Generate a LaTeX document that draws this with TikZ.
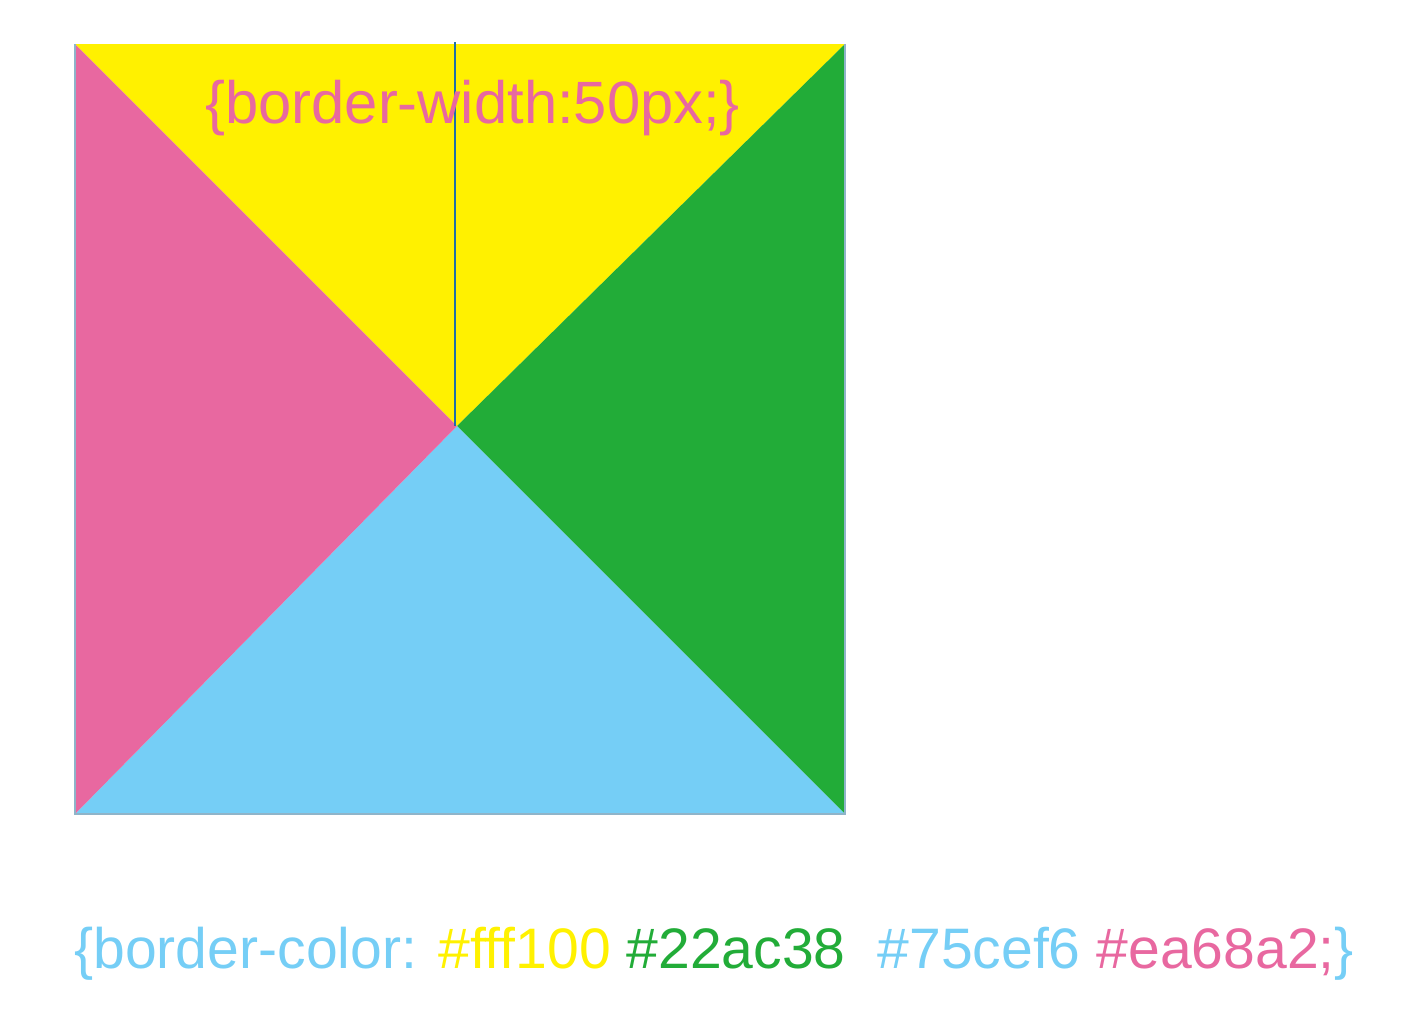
\documentclass[tikz,border=0pt]{standalone}
\usepackage{fontspec}
\setmainfont{Liberation Sans}
\definecolor{cyel}{HTML}{FFF100}
\definecolor{cgrn}{HTML}{22AC38}
\definecolor{cblu}{HTML}{75CEF6}
\definecolor{cpnk}{HTML}{E868A0}
\definecolor{cedge}{HTML}{8FB4C9}
\definecolor{cline}{HTML}{1F6FA8}
\begin{document}
\begin{tikzpicture}[x=0.02cm,y=-0.02cm,
  lbl/.style={inner sep=0pt,anchor=base west}]
\useasboundingbox (0,0) rectangle (1408,1012);
\coordinate (tl) at (75,44);
\coordinate (tr) at (845,44);
\coordinate (br) at (845,814);
\coordinate (bl) at (75,814);
\coordinate (c) at (457,426);
\fill[cyel] (tl) -- (tr) -- (c) -- cycle;
\fill[cgrn] (tr) -- (br) -- (c) -- cycle;
\fill[cblu] (br) -- (bl) -- (c) -- cycle;
\fill[cpnk] (bl) -- (tl) -- (c) -- cycle;
\draw[cedge,line width=1.2pt] (tl) -- (bl) -- (br) -- (tr);
\coordinate (vtop) at (455,42);
\coordinate (vbot) at (455,426);
\draw[cline,line width=0.9pt] (vtop) -- (vbot);
\node[lbl,text=cpnk,font=\fontsize{34}{40}\selectfont] (tw) at (205,123) {\{border-width:50px;\}};
\node[lbl,font=\fontsize{32.5}{38}\selectfont] (tc) at (74,968)
  {\textcolor{cblu}{\{border-color:} \textcolor{cyel}{\#fff100} \textcolor{cgrn}{\#22ac38}\ \ \textcolor{cblu}{\#75cef6} \textcolor{cpnk}{\#ea68a2;}\textcolor{cblu}{\}}};
\end{tikzpicture}
\end{document}
